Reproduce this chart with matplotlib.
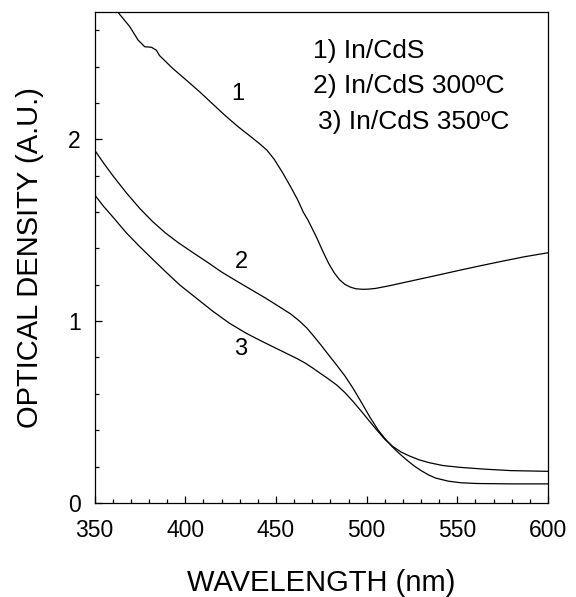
import matplotlib
matplotlib.use("Agg")
import matplotlib.pyplot as plt
from matplotlib.ticker import MultipleLocator

plt.rcParams['font.family'] = ['Liberation Sans', 'DejaVu Sans']

# Absorption spectra: wavelength (nm) and optical density (a.u.)
wl_1 = [362.7, 366.0, 369.3, 373.9, 377.6, 381.3, 384.0, 385.8, 393.0, 400.0,
        408.0, 415.0, 422.0, 429.0, 436.0, 441.0, 445.0, 449.0, 453.7, 458.0,
        462.0, 465.0, 467.6, 472.2, 476.0, 479.0, 482.0, 485.0, 488.0, 491.0,
        494.0, 497.8, 501.0, 505.0, 512.7, 525.0, 537.0, 550.0, 562.0, 575.0,
        587.0, 600.0]
od_1 = [2.70, 2.66, 2.62, 2.546, 2.509, 2.506, 2.49, 2.46, 2.39, 2.33,
        2.26, 2.195, 2.13, 2.07, 2.015, 1.975, 1.94, 1.89, 1.815, 1.74,
        1.666, 1.60, 1.556, 1.464, 1.38, 1.318, 1.267, 1.228, 1.202, 1.187,
        1.178, 1.175, 1.176, 1.18, 1.195, 1.222, 1.248, 1.277, 1.303, 1.330,
        1.354, 1.376]

wl_2 = [350.0, 355.0, 360.0, 367.5, 375.0, 382.0, 389.0, 396.0, 404.0, 412.0,
        420.0, 428.0, 436.0, 444.0, 452.0, 458.0, 463.0, 467.0, 471.0, 474.5,
        478.0, 483.3, 487.9, 492.4, 497.0, 501.6, 506.2, 510.0, 514.0, 518.0,
        522.0, 526.0, 530.0, 534.0, 538.0, 545.0, 552.0, 561.0, 580.0, 600.0]
od_2 = [1.94, 1.868, 1.80, 1.705, 1.618, 1.547, 1.485, 1.432, 1.378, 1.325,
        1.27, 1.222, 1.175, 1.128, 1.078, 1.04, 1.0, 0.962, 0.915, 0.872,
        0.827, 0.760, 0.700, 0.632, 0.555, 0.475, 0.403, 0.355, 0.31, 0.272,
        0.237, 0.205, 0.178, 0.155, 0.137, 0.12, 0.111, 0.107, 0.105, 0.105]

wl_3 = [350.0, 355.0, 360.0, 367.5, 374.8, 382.0, 389.6, 396.9, 406.1, 415.2,
        424.4, 433.6, 442.8, 452.0, 461.2, 466.0, 470.4, 474.1, 478.5, 483.3,
        488.0, 492.4, 497.0, 501.6, 506.2, 510.0, 514.5, 519.0, 523.7, 529.0,
        534.7, 542.0, 551.3, 565.0, 579.4, 600.0]
od_3 = [1.694, 1.63, 1.573, 1.485, 1.41, 1.34, 1.267, 1.199, 1.126, 1.054,
        0.988, 0.933, 0.886, 0.841, 0.796, 0.77, 0.741, 0.715, 0.685, 0.65,
        0.607, 0.559, 0.505, 0.449, 0.394, 0.35, 0.31, 0.28, 0.258, 0.237,
        0.221, 0.206, 0.196, 0.186, 0.178, 0.174]

curve_labels = ["1", "2", "3"]
curve_label_pos = [(428.8, 2.249), (430.8, 1.327), (430.5, 0.844)]

legend_lines = ["1) In/CdS", "2) In/CdS 300ºC", "3) In/CdS 350ºC"]
legend_pos = [(470.2, 2.445), (470.2, 2.253), (473.0, 2.057)]

fig = plt.figure(figsize=(5.76, 5.97), dpi=100)
ax = fig.add_axes([0.1644, 0.1575, 0.9514 - 0.1644, 0.9799 - 0.1575])

for wl, od in [(wl_1, od_1), (wl_2, od_2), (wl_3, od_3)]:
    ax.plot(wl, od, color='black', lw=0.9, solid_joinstyle='round')

for lab, (x, y) in zip(curve_labels, curve_label_pos):
    ax.text(x, y, lab, fontsize=17, ha='center', va='center')

for line, (x, y) in zip(legend_lines, legend_pos):
    ax.text(x, y, line, fontsize=19, ha='left', va='baseline')

ax.set_xlim(350, 600)
ax.set_ylim(0, 2.7)
ax.xaxis.set_major_locator(MultipleLocator(50))
ax.xaxis.set_minor_locator(MultipleLocator(10))
ax.yaxis.set_major_locator(MultipleLocator(1))
ax.yaxis.set_minor_locator(MultipleLocator(0.2))

ax.tick_params(which='both', direction='in', width=0.9, color='black')
ax.tick_params(which='major', length=5)
ax.tick_params(which='minor', length=3)
ax.tick_params(axis='x', which='major', labelsize=16.5, pad=11.5)
ax.tick_params(axis='y', which='major', labelsize=16.5, pad=10)

for sp in ax.spines.values():
    sp.set_linewidth(0.9)

ax.set_xlabel("WAVELENGTH (nm)", fontsize=21)
ax.set_ylabel("OPTICAL DENSITY (A.U.)", fontsize=21)
ax.xaxis.set_label_coords(0.5, -0.134)
ax.yaxis.set_label_coords(-0.111, 0.5)

fig.savefig("out.png", dpi=100)
